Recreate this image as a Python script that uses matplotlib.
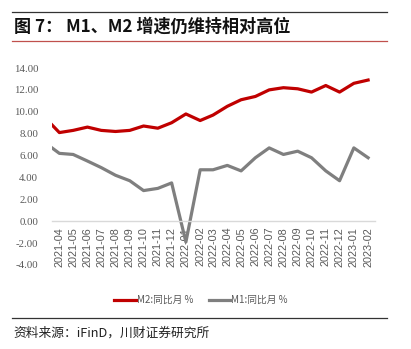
import matplotlib
matplotlib.use("Agg")
import matplotlib.pyplot as plt
from matplotlib.lines import Line2D
import pandas as pd

dates = ["2021-03-16", "2021-04-01", "2021-05-01", "2021-06-01", "2021-07-01", "2021-08-01",
         "2021-09-01", "2021-10-01", "2021-11-01", "2021-12-01", "2022-01-01", "2022-02-01",
         "2022-03-01", "2022-04-01", "2022-05-01", "2022-06-01", "2022-07-01", "2022-08-01",
         "2022-09-01", "2022-10-01", "2022-11-01", "2022-12-01", "2023-01-01", "2023-02-01"]
m2 = [8.8, 8.1, 8.3, 8.6, 8.3, 8.2, 8.3, 8.7, 8.5, 9.0, 9.8, 9.2,
      9.7, 10.5, 11.1, 11.4, 12.0, 12.2, 12.1, 11.8, 12.4, 11.8, 12.6, 12.9]
m1 = [6.7, 6.2, 6.1, 5.5, 4.9, 4.2, 3.7, 2.8, 3.0, 3.5, -1.9, 4.7,
      4.7, 5.1, 4.6, 5.8, 6.7, 6.1, 6.4, 5.8, 4.6, 3.7, 6.7, 5.8]
tick_labels = ["2021-04", "2021-05", "2021-06", "2021-07", "2021-08", "2021-09", "2021-10",
               "2021-11", "2021-12", "2022-01", "2022-02", "2022-03", "2022-04", "2022-05",
               "2022-06", "2022-07", "2022-08", "2022-09", "2022-10", "2022-11", "2022-12",
               "2023-01", "2023-02"]
yticks = [-4, -2, 0, 2, 4, 6, 8, 10, 12, 14]
title = "图 7： M1、M2 增速仍维持相对高位"
source = "资料来源：iFinD，川财证券研究所"
names = ["M2:同比月 %", "M1:同比月 %"]

plt.rcParams['font.family'] = ['Noto Sans CJK SC', 'DejaVu Sans']

W, H = 411, 349
fig = plt.figure(figsize=(W / 100, H / 100), dpi=100)

x = pd.to_datetime(dates)
tx = pd.to_datetime([t + "-01" for t in tick_labels])

ax = fig.add_axes([52 / W, 1 - 265 / H, (375 - 52) / W, (265 - 68) / H])
ax.plot(x, m2, color="#C00000", lw=2.3, solid_joinstyle="round")
ax.plot(x, m1, color="#7F7F7F", lw=2.3, solid_joinstyle="round")
ax.set_ylim(-4, 14)
ax.set_xlim(x[0], pd.Timestamp("2023-02-16"))
for s in ["top", "right", "left"]:
    ax.spines[s].set_visible(False)
ax.spines["bottom"].set_position(("data", 0))
ax.spines["bottom"].set_color("#D9D9D9")
ax.spines["bottom"].set_linewidth(1)
ax.tick_params(axis="both", length=0)
ax.tick_params(axis="x", pad=4)
ax.tick_params(axis="y", pad=10)

ax.set_yticks(yticks)
ax.set_yticklabels([f"{v:.2f}" for v in yticks])
ax.set_xticks(tx)
ax.set_xticklabels(tick_labels)
for lab in ax.get_yticklabels():
    lab.set_fontfamily("Liberation Serif")
    lab.set_fontsize(7.8)
    lab.set_color("#595959")
for lab in ax.get_xticklabels():
    lab.set_fontfamily("Liberation Sans")
    lab.set_fontsize(7.8)
    lab.set_color("#595959")
    lab.set_rotation(90)
    lab.set_va("top")
    lab.set_ha("center")

handles = [Line2D([], [], color="#C00000", lw=2.3), Line2D([], [], color="#7F7F7F", lw=2.3)]
leg = fig.legend(handles, names, loc="center", bbox_to_anchor=(201 / W, 1 - 300 / H),
                 ncol=2, frameon=False, fontsize=7, handlelength=2.2, handletextpad=0.1,
                 columnspacing=1.6)
for t in leg.get_texts():
    t.set_color("#595959")

fig.add_artist(Line2D([12 / W, 387 / W], [1 - 12 / H, 1 - 12 / H], color="#333333", lw=0.9))
fig.add_artist(Line2D([12 / W, 387 / W], [1 - 41 / H, 1 - 41 / H], color="#C0504D", lw=0.9))
fig.add_artist(Line2D([12 / W, 387 / W], [1 - 318 / H, 1 - 318 / H], color="#333333", lw=0.9))

fig.text(14 / W, 1 - 27 / H, title, fontsize=12.3, fontweight="bold", va="center", ha="left",
         color="#111111")
fig.text(13 / W, 1 - 333 / H, source, fontsize=9.2, style="italic", va="center", ha="left",
         color="#222222")

fig.savefig("out.png", dpi=100)
